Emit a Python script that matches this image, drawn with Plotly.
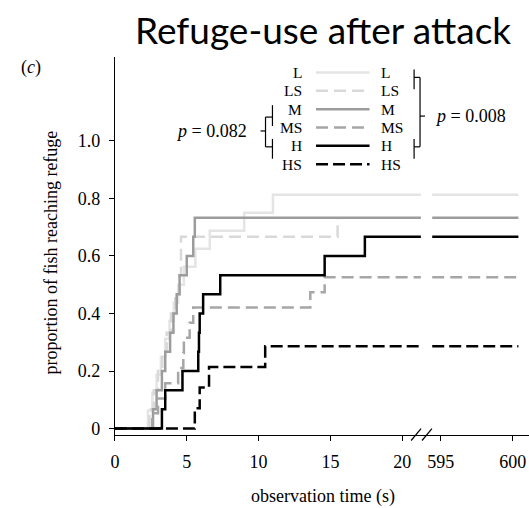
import plotly.graph_objects as go

# ---------------- data ----------------
groups = ["L", "LS", "M", "MS", "H", "HS"]

# step times (s) and proportions after each step (first point = start)
L_t = [0, 2.3, 2.6, 2.9, 3.2, 3.5, 3.8, 4.1, 4.4, 4.8, 5.6, 6.6, 9.0, 11.0]
L_p = [0, 0.0625, 0.125, 0.1875, 0.25, 0.3125, 0.375, 0.4375, 0.5, 0.5625, 0.625, 0.6875, 0.75, 0.8125]

LS_t = [0, 2.4, 2.7, 3.0, 3.3, 3.6, 3.9, 4.2, 4.5, 4.6, 15.5]
LS_p = [0, 0.067, 0.133, 0.2, 0.267, 0.333, 0.4, 0.467, 0.533, 0.667, 0.733]

M_t = [0, 2.65, 2.9, 3.27, 3.5, 3.84, 4.07, 4.3, 4.5, 5.0, 5.45, 5.56]
M_p = [0, 0.067, 0.133, 0.2, 0.267, 0.333, 0.4, 0.467, 0.533, 0.6, 0.667, 0.733]

MS_t = [0, 2.6, 3.0, 3.5, 4.4, 4.76, 4.8, 5.2, 5.45, 13.6, 14.6]
MS_p = [0, 0.053, 0.105, 0.158, 0.211, 0.263, 0.316, 0.368, 0.421, 0.474, 0.526]

H_t = [0, 3.27, 3.5, 4.7, 5.8, 5.85, 5.9, 6.14, 7.33, 14.6, 17.4]
H_p = [0, 0.067, 0.133, 0.2, 0.267, 0.333, 0.4, 0.467, 0.533, 0.6, 0.667]

HS_t = [0, 5.56, 5.9, 6.55, 10.46]
HS_p = [0, 0.071, 0.143, 0.214, 0.286]

left_end = 21.3          # last time drawn before the axis break
right_span = [594.4, 600.4]  # late part of the observation window

x_ticks_left = [0, 5, 10, 15, 20]
x_ticks_right = [595, 600]
y_ticks = [0, 0.2, 0.4, 0.6, 0.8, 1.0]
y_ticktext = ["0", "0.2", "0.4", "0.6", "0.8", "1.0"]

# ---------------- styles ----------------
styles = {
    "L":  dict(color="#e4e4e4", dash="solid"),
    "LS": dict(color="#d9d9d9", dash="12px,6px"),
    "M":  dict(color="#9c9c9c", dash="solid"),
    "MS": dict(color="#a6a6a6", dash="12px,6px"),
    "H":  dict(color="#000000", dash="solid"),
    "HS": dict(color="#000000", dash="12px,5px"),
}
series = {"L": (L_t, L_p), "LS": (LS_t, LS_p), "M": (M_t, M_p),
          "MS": (MS_t, MS_p), "H": (H_t, H_p), "HS": (HS_t, HS_p)}
continues = {"L": True, "LS": False, "M": True, "MS": True, "H": True, "HS": True}

W, H = 529, 508
SERIF = "Liberation Serif"
FS = 18
def px(x): return x / W
def py(y): return 1 - y / H

fig = go.Figure()
for g in groups:
    t, p = series[g]
    st = styles[g]
    xs = list(t)
    ys = list(p)
    if continues[g]:
        xs.append(left_end)
        ys.append(p[-1])
    fig.add_trace(go.Scatter(x=xs, y=ys, mode="lines", line_shape="hv",
                             line=dict(color=st["color"], width=2.5, dash=st["dash"]),
                             xaxis="x", yaxis="y", showlegend=False, hoverinfo="skip"))
for g in groups:
    if not continues[g]:
        continue
    t, p = series[g]
    st = styles[g]
    fig.add_trace(go.Scatter(x=right_span, y=[p[-1], p[-1]], mode="lines",
                             line=dict(color=st["color"], width=2.5, dash=st["dash"]),
                             xaxis="x2", yaxis="y", showlegend=False, hoverinfo="skip"))

x0_px, xb_px = 111, 425
scale = 14.5
axis_common = dict(showgrid=False, zeroline=False, showline=True, linecolor="black",
                   linewidth=1.3, ticks="outside", ticklen=5, tickwidth=1.2,
                   tickcolor="black", tickfont=dict(family=SERIF, size=FS, color="black"))
fig.update_layout(
    width=W, height=H, margin=dict(l=0, r=0, t=0, b=0),
    plot_bgcolor="white", paper_bgcolor="white",
    xaxis=dict(domain=[px(x0_px), px(xb_px)], range=[0, (xb_px - x0_px) / scale],
               tickvals=x_ticks_left, anchor="y", ticklabelstandoff=6, **axis_common),
    xaxis2=dict(domain=[px(xb_px), 1], range=[595 - (440 - xb_px) / scale, 595 + (W - 440) / scale],
                tickvals=x_ticks_right, anchor="y", ticklabelstandoff=6, **axis_common),
    yaxis=dict(domain=[py(438), py(57)], range=[-6 / 290, (432 - 57) / 290],
               tickvals=y_ticks, ticktext=y_ticktext, anchor="x", ticklabelstandoff=5,
               **axis_common),
)

shapes = []
for x1 in (410, 421):
    shapes.append(dict(type="line", xref="paper", yref="paper",
                       x0=px(x1), y0=py(444), x1=px(x1 + 10), y1=py(432),
                       line=dict(color="black", width=1.2)))
rows = [73, 91.5, 110, 128.5, 147, 165.5]
for g, yy in zip(groups, rows):
    st = styles[g]
    shapes.append(dict(type="line", xref="paper", yref="paper",
                       x0=px(314), x1=px(368), y0=py(yy), y1=py(yy),
                       line=dict(color=st["color"], width=2.5, dash=st["dash"])))
def seg(xa, ya, xb, yb):
    shapes.append(dict(type="line", xref="paper", yref="paper",
                       x0=px(xa), y0=py(ya), x1=px(xb), y1=py(yb),
                       line=dict(color="black", width=1.2)))
seg(270, 106, 270, 127); seg(270, 118, 263, 118); seg(263, 118, 263, 148)
seg(270, 140, 270, 160); seg(270, 148, 263, 148); seg(263, 132, 258, 132)
seg(413, 70, 413, 90); seg(413, 78, 419, 78); seg(419, 78, 419, 148)
seg(413, 140, 413, 160); seg(413, 148, 419, 148); seg(419, 117, 424, 117)
fig.update_layout(shapes=shapes)

ann = []
def text(x, y, s, size=FS, xanchor="center", family=SERIF, angle=0):
    ann.append(dict(x=px(x), y=py(y), xref="paper", yref="paper", text=s, showarrow=False,
                    xanchor=xanchor, yanchor="middle", textangle=angle,
                    font=dict(family=family, size=size, color="black")))
for g, yy in zip(groups, rows):
    text(302, yy, g, size=15.5, xanchor="right")
    text(378, yy, g, size=15.5, xanchor="left")
text(171, 132, "<i>p</i> = 0.082", xanchor="left")
text(432, 117, "<i>p</i> = 0.008", xanchor="left")
text(26, 68, "(<i>c</i>)")
text(321, 500, "observation time (s)")
text(46, 255, "proportion of fish reaching refuge", angle=-90)
text(321.5, 30, "Refuge-use after attack", size=37, family="Lato")
fig.update_layout(annotations=ann)

fig.write_html("out.html")
